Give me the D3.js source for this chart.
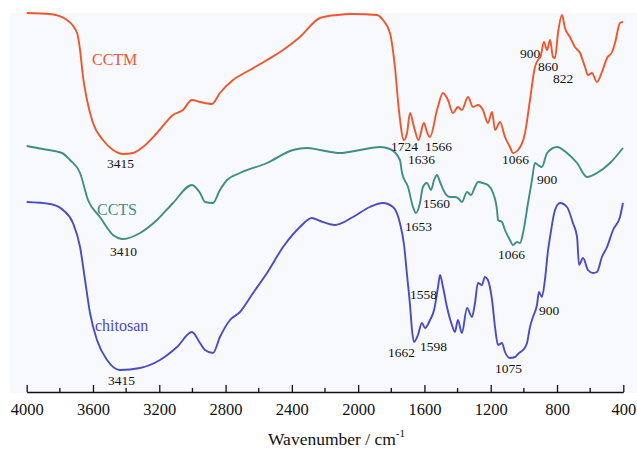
<!DOCTYPE html>
<html>
<head>
<meta charset="utf-8">
<script src="https://cdn.jsdelivr.net/npm/d3@7"></script>
<style>
  body { margin: 0; background: #fff; }
  svg { display: block; font-family: "Liberation Serif", "Times New Roman", serif; }
</style>
</head>
<body>
<div id="chart"></div>
<script>
// FTIR spectra, [wavenumber cm-1, transmittance (a.u.)]
const cctm = [
  [4000,189.5],[3859,189],[3757,186],[3696,179.5],[3678,171],[3660,157.5],[3636,146],[3600,134.5],
  [3540,126],[3479,121],[3415,119],[3359,119.5],[3299,122.5],[3214,129.5],[3117,138.5],[3057,141],
  [3003,146],[2954,145],[2882,144],[2834,149.5],[2755,156],[2653,161],[2550,166],[2453,171],
  [2351,177.5],[2230,187],[2128,188.5],[2031,189],[1886,188.5],[1850,186],[1808,179.5],[1778,162.5],
  [1754,141],[1724,126],[1705,129.5],[1687,139.5],[1663,132.5],[1636,126],[1603,134.5],[1585,130],
  [1566,127.5],[1524,141],[1488,149.5],[1458,146],[1428,139.5],[1398,142.5],[1374,141],[1337,147.5],
  [1307,142.5],[1277,143.5],[1247,141],[1217,134.5],[1192,140],[1174,131],[1144,135],[1114,127.5],
  [1084,122.5],[1066,119.5],[1035,121],[993,129.5],[963,146],[933,162.5],[915,166],[900,167.5],
  [879,175],[860,171],[842,176],[824,167.5],[812,167],[794,179.5],[770,188.5],[752,182],
  [722,177.5],[692,172.5],[661,169.5],[631,162.5],[613,158.5],[589,159.5],[559,155],[529,160],
  [498,167],[468,170],[450,174.5],[420,184.5],[402,185]
];
const ccts = [
  [4000,123],[3902,121.5],[3787,119.5],[3739,116],[3678,109.5],[3630,96],[3558,87.5],[3479,78.5],
  [3418,76.5],[3316,79.5],[3214,86],[3117,94.5],[3003,103.5],[2954,99.5],[2924,95],[2876,94.5],
  [2834,101],[2791,106],[2713,109.5],[2550,114.5],[2393,121],[2309,122],[2230,121],[2110,119.5],
  [1989,121],[1868,122.5],[1808,121.5],[1748,116],[1735,109.5],[1699,102.5],[1669,92.5],[1651,89.5],
  [1627,94.5],[1609,102.5],[1585,104.5],[1560,101],[1542,106],[1524,108.5],[1506,105],[1476,99.5],
  [1446,97.5],[1416,97.5],[1398,97],[1374,95],[1343,100],[1319,98.5],[1295,102.5],[1277,105],
  [1247,104.5],[1217,103.5],[1186,99.5],[1162,91],[1156,86],[1132,85],[1114,81],[1084,76],
  [1066,73.5],[1041,75],[1023,74.5],[1005,79.5],[975,94.5],[951,106],[933,114.5],[915,113.5],
  [891,112.5],[860,119.5],[800,122.5],[740,119.5],[679,114.5],[619,107.5],[559,109.5],[480,114.5],
  [402,122]
];
const chitosan = [
  [4000,95],[3859,94],[3781,91],[3721,84.5],[3678,72.5],[3648,56],[3618,39.5],[3576,26],
  [3515,16],[3437,11],[3316,12],[3196,16],[3093,22.5],[3003,30],[2954,24.5],[2924,21],
  [2876,19.5],[2834,27.5],[2773,36],[2713,40],[2634,49.5],[2550,59.5],[2453,72.5],[2351,82.5],
  [2279,87],[2230,85.5],[2140,83.5],[2031,87.5],[1929,92.5],[1850,94.5],[1790,92.5],[1748,84.5],
  [1723,73.5],[1705,58.5],[1687,43.5],[1675,31],[1663,25],[1639,28.5],[1615,34.5],[1597,32],
  [1566,36],[1542,41],[1518,52.5],[1506,58.5],[1488,52.5],[1464,42.5],[1434,33.5],[1416,30],
  [1398,36],[1374,29.5],[1343,42],[1313,37.5],[1295,44.5],[1277,54.5],[1253,53.5],[1235,57.5],
  [1217,56],[1192,46],[1174,32.5],[1156,23.5],[1132,24.5],[1114,20],[1084,17],[1053,17.5],
  [1029,19.5],[1005,21],[981,24.5],[963,32.5],[945,37.5],[921,43.5],[909,50],[891,47.5],
  [873,56],[854,71],[842,77.5],[812,91],[782,94.5],[740,92.5],[704,84.5],[679,77.5],
  [667,63.5],[643,67],[613,61],[583,59.5],[559,60],[529,67.5],[498,72.5],[462,81],
  [420,87.5],[402,94.5]
];
const majorTicks = [4000, 3600, 3200, 2800, 2400, 2000, 1600, 1200, 800, 400];
const minorTicks = [3800, 3400, 3000, 2600, 2200, 1800, 1400, 1000, 600];
const seriesNames = ["CCTM", "CCTS", "chitosan"];

const width = 637, height = 450;
const colors = { CCTM: "#f1552d", CCTS: "#3e8e87", chitosan: "#4a4cc3" };

const svg = d3.select("#chart").append("svg")
  .attr("width", width)
  .attr("height", height);

// Scales
const x = d3.scaleLinear().domain([4000, 400]).range([26.7, 623.3]);
const y = d3.scaleLinear().domain([0, 190]).range([392, 12]);

// faint plot background
svg.append("rect")
  .attr("x", 10).attr("y", 13)
  .attr("width", width - 10).attr("height", 380)
  .attr("fill", "#f8f9fc");

// Axis
const xAxis = d3.axisBottom(x)
  .tickValues(majorTicks)
  .tickSizeInner(-7)
  .tickSizeOuter(0)
  .tickPadding(11)
  .tickFormat(d3.format("d"));

const gx = svg.append("g")
  .attr("transform", "translate(0,392)")
  .call(xAxis);
gx.select(".domain").attr("stroke", "#111").attr("stroke-width", 1.3);
gx.selectAll(".tick line").attr("stroke", "#111").attr("stroke-width", 1.3);
gx.selectAll(".tick text")
  .attr("font-family", "Liberation Serif, serif")
  .attr("font-size", "16.5px")
  .attr("fill", "#111");

gx.selectAll(".minor")
  .data(minorTicks).enter().append("line")
  .attr("class", "minor")
  .attr("x1", d => x(d)).attr("x2", d => x(d))
  .attr("y1", 0).attr("y2", -4)
  .attr("stroke", "#111").attr("stroke-width", 1.3);

// Axis title
const title = svg.append("text")
  .attr("x", 268)
  .attr("y", 445)
  .attr("font-size", "17.5px")
  .attr("fill", "#111");
title.append("tspan").text("Wavenumber / cm");
title.append("tspan").attr("dy", -8).attr("font-size", "11px").text("-1");

// Lines
const line = d3.line()
  .x(d => x(d[0]))
  .y(d => y(d[1]))
  .curve(d3.curveMonotoneX);

[cctm, ccts, chitosan].forEach((s, i) => {
  svg.append("path")
    .datum(s)
    .attr("fill", "none")
    .attr("stroke", colors[seriesNames[i]])
    .attr("stroke-width", 1.9)
    .attr("stroke-linejoin", "round")
    .attr("d", line);
});

// Series names
const nameLabels = [
  { name: "CCTM", px: 92, py: 65 },
  { name: "CCTS", px: 97, py: 215 },
  { name: "chitosan", px: 95, py: 331 }
];
nameLabels.forEach(l => {
  svg.append("text")
    .attr("x", l.px).attr("y", l.py)
    .attr("font-size", "16px")
    .attr("fill", colors[l.name])
    .text(l.name);
});

// Peak annotations
const peaks = [
  ["3415", 107, 168], ["1724", 391, 151], ["1566", 425, 151], ["1636", 408, 164],
  ["1066", 502, 164], ["900", 520, 58], ["860", 538, 71], ["822", 553, 83],
  ["3410", 110, 256], ["1653", 405, 231], ["1560", 423, 208], ["1066", 498, 259], ["900", 537, 184],
  ["3415", 108, 385], ["1558", 410, 299], ["1662", 388, 357], ["1598", 420, 351],
  ["1075", 495, 373], ["900", 539, 315]
];
svg.selectAll(".peak")
  .data(peaks).enter().append("text")
  .attr("class", "peak")
  .attr("x", d => d[1]).attr("y", d => d[2])
  .attr("font-size", "13.5px")
  .attr("fill", "#111")
  .text(d => d[0]);
</script>
</body>
</html>
